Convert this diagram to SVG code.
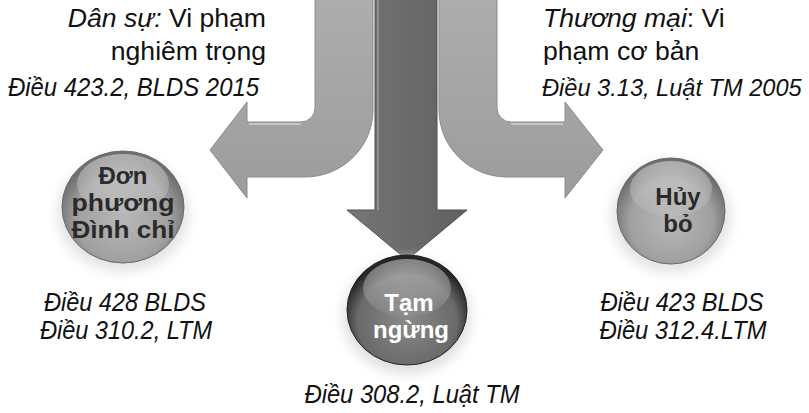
<svg xmlns="http://www.w3.org/2000/svg" width="809" height="413" viewBox="0 0 809 413">
<defs>
<style>
text{font-family:"Liberation Sans",Arial,sans-serif;fill:#111}
.t{font-size:26.6px}
.r{font-size:25px;font-style:italic}
.i{font-style:italic}
.nb{font-size:24px;font-weight:bold;text-anchor:middle;fill:#2a2a2a}
.nw{font-size:24px;font-weight:bold;text-anchor:middle;fill:#fff}
.arm{fill:url(#gArm);stroke:#8c8c8c;stroke-width:1}
</style>
<linearGradient id="gArm" x1="0" y1="0" x2="0" y2="1">
<stop offset="0" stop-color="#adadad"/>
<stop offset="1" stop-color="#9c9c9c"/>
</linearGradient>
<linearGradient id="gMid" x1="0" y1="0" x2="1" y2="0">
<stop offset="0" stop-color="#767676"/>
<stop offset="1" stop-color="#606060"/>
</linearGradient>
<radialGradient id="gLight" cx="0.5" cy="0.6" r="0.55">
<stop offset="0" stop-color="#b8b8b8"/>
<stop offset="0.7" stop-color="#a0a0a0"/>
<stop offset="1" stop-color="#6e6e6e"/>
</radialGradient>
<radialGradient id="gDark" cx="0.5" cy="0.6" r="0.55">
<stop offset="0" stop-color="#8a8a8a"/>
<stop offset="0.75" stop-color="#6a6a6a"/>
<stop offset="1" stop-color="#262626"/>
</radialGradient>
<linearGradient id="gHi" x1="0" y1="0" x2="0" y2="1">
<stop offset="0" stop-color="#ffffff" stop-opacity="0.45"/>
<stop offset="1" stop-color="#ffffff" stop-opacity="0.05"/>
</linearGradient>
<filter id="blur" x="-30%" y="-30%" width="160%" height="160%"><feGaussianBlur stdDeviation="6"/></filter>
</defs>
<rect width="809" height="413" fill="#ffffff"/>

<g id="connectors">
<path id="arm-left" class="arm" d="M315,-2 L315,108 A14 14 0 0 1 301,122 L247,122 L247,102 L210,150 L247,198 L247,177 L305,177 A68 67 0 0 0 373,110 L373,-2 Z"/>
<path id="arm-right" class="arm" d="M497,-2 L497,108 A14 14 0 0 0 511,122 L565,122 L565,102 L603,150 L565,198 L565,177 L507,177 A68 67 0 0 1 439,110 L439,-2 Z"/>
<path d="M249,124 L301,124" stroke="#c4c4c4" stroke-width="2" fill="none"/>
<path d="M563,124 L511,124" stroke="#c4c4c4" stroke-width="2" fill="none"/>
<path id="arrow-mid" d="M375,-2 L375,210 L347,210 L407,260 L467,210 L437,210 L437,-2 Z" fill="url(#gMid)" stroke="#505050" stroke-width="1"/>
<path d="M378,0 L378,210" stroke="#8e8e8e" stroke-width="2"/>
</g>

<g id="text-left">
<text class="t" x="266" y="27" text-anchor="end"><tspan class="i">Dân sự:</tspan> Vi phạm</text>
<text class="t" x="266" y="60" text-anchor="end">nghiêm trọng</text>
<text class="r" x="8" y="96" textLength="251" lengthAdjust="spacingAndGlyphs">Điều 423.2, BLDS 2015</text>
</g>
<g id="text-right">
<text class="t" x="543" y="27"><tspan class="i">Thương mại</tspan>: Vi</text>
<text class="t" x="543" y="60">phạm cơ bản</text>
<text class="r" x="542" y="96" style="font-size:23.6px">Điều 3.13, Luật TM 2005</text>
</g>

<g id="node-don-phuong">
<ellipse cx="123" cy="214" rx="66" ry="58" fill="#e4e4e4" filter="url(#blur)"/>
<ellipse cx="123" cy="207" rx="61" ry="56" fill="url(#gLight)" stroke="#6a6a6a" stroke-width="1"/>
<ellipse cx="123" cy="184" rx="46" ry="30" fill="url(#gHi)"/>
<text class="nb" x="123" y="184">Đơn</text>
<text class="nb" x="123" y="211" textLength="103" lengthAdjust="spacingAndGlyphs">phương</text>
<text class="nb" x="123" y="238" textLength="103" lengthAdjust="spacingAndGlyphs">Đình chỉ</text>
<text class="r" x="125" y="311" text-anchor="middle" textLength="162" lengthAdjust="spacingAndGlyphs">Điều 428 BLDS</text>
<text class="r" x="126" y="339" text-anchor="middle" textLength="172" lengthAdjust="spacingAndGlyphs">Điều 310.2, LTM</text>
</g>

<g id="node-huy-bo">
<ellipse cx="671" cy="217" rx="60" ry="56" fill="#e4e4e4" filter="url(#blur)"/>
<ellipse cx="671" cy="211" rx="54" ry="53" fill="url(#gLight)" stroke="#6a6a6a" stroke-width="1"/>
<ellipse cx="671" cy="189" rx="41" ry="28" fill="url(#gHi)"/>
<text class="nb" x="678" y="205">Hủy</text>
<text class="nb" x="678" y="232">bỏ</text>
<text class="r" x="682" y="311" text-anchor="middle" textLength="163" lengthAdjust="spacingAndGlyphs">Điều 423 BLDS</text>
<text class="r" x="683" y="339" text-anchor="middle" textLength="167" lengthAdjust="spacingAndGlyphs">Điều 312.4.LTM</text>
</g>

<g id="node-tam-ngung">
<ellipse cx="407" cy="316" rx="64" ry="58" fill="#e0e0e0" filter="url(#blur)"/>
<ellipse cx="407" cy="310" rx="60" ry="55" fill="url(#gDark)" stroke="#222" stroke-width="1"/>
<ellipse cx="407" cy="288" rx="44" ry="29" fill="url(#gHi)"/>
<text class="nw" x="409" y="311">Tạm</text>
<text class="nw" x="411" y="338">ngừng</text>
<text class="r" x="412" y="403" text-anchor="middle" textLength="215" lengthAdjust="spacingAndGlyphs">Điều 308.2, Luật TM</text>
</g>
</svg>
